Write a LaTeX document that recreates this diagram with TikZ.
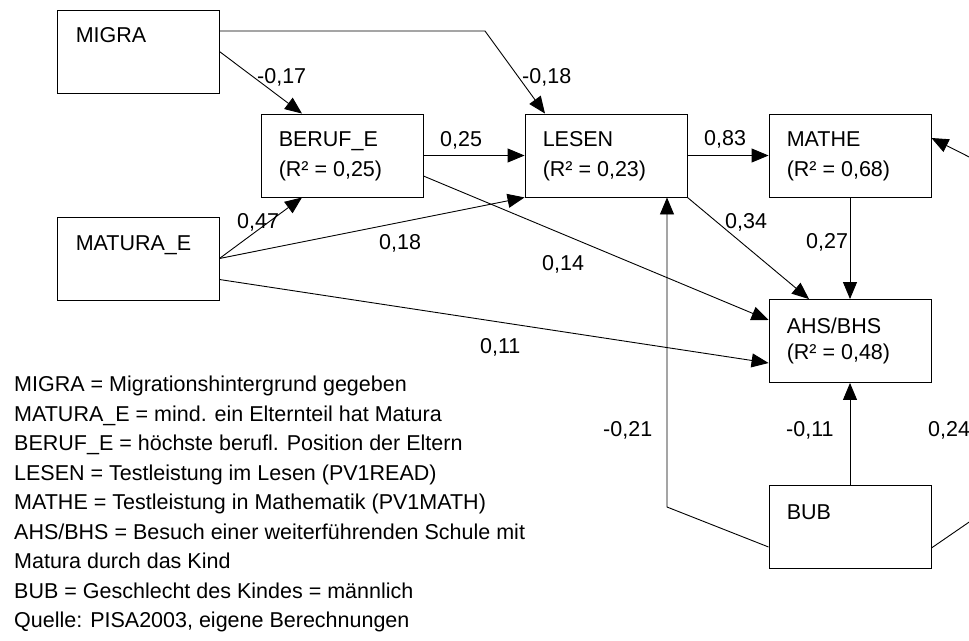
\documentclass[tikz,border=0pt]{standalone}
\usepackage{fontspec}
\setmainfont{Liberation Sans}
\usetikzlibrary{arrows.meta,calc}
\begin{document}
\begin{tikzpicture}[x=1pt,y=1pt,
  box/.style={draw,line width=0.9pt,minimum width=162pt,minimum height=83pt,inner sep=0pt},
  txt/.style={anchor=base west,inner sep=0pt,font=\fontsize{21.5}{25}\selectfont},
  conn/.style={line width=0.9pt,-{Triangle[length=17pt,width=14pt]}},
  plainline/.style={line width=0.9pt}]
\useasboundingbox (0,0) rectangle (969,-640);
\clip (0,0) rectangle (969,-640);

% boxes
\node[box] (migra)  at (138,-51.5) {};
\node[box] (matura) at (138,-258.5) {};
\node[box] (beruf)  at (342,-155.5) {};
\node[box] (lesen)  at (606,-155.5) {};
\node[box] (mathe)  at (850,-155.5) {};
\node[box] (ahs)    at (850,-341) {};
\node[box] (bub)    at (850,-527) {};

% box texts
\node[txt] (migraT)  at ($(migra.north west)+(19,-33)$) {MIGRA};
\node[txt] (maturaT) at ($(matura.north west)+(19,-34)$) {MATURA\_E};
\node[txt] (berufT)  at ($(beruf.north west)+(18,-33)$) {BERUF\_E};
\node[txt] (berufR)  at ($(beruf.north west)+(18,-63)$) {(R² = 0,25)};
\node[txt] (lesenT)  at ($(lesen.north west)+(18,-33)$) {LESEN};
\node[txt] (lesenR)  at ($(lesen.north west)+(18,-63)$) {(R² = 0,23)};
\node[txt] (matheT)  at ($(mathe.north west)+(18,-33)$) {MATHE};
\node[txt] (matheR)  at ($(mathe.north west)+(18,-63)$) {(R² = 0,68)};
\node[txt] (ahsT)    at ($(ahs.north west)+(18,-34)$) {AHS/BHS};
\node[txt] (ahsR)    at ($(ahs.north west)+(18,-60)$) {(R² = 0,48)};
\node[txt] (bubT)    at ($(bub.north west)+(18,-34)$) {BUB};

% helper coordinates
\coordinate (m1) at (485,-31);
\coordinate (b1) at (667,-507);
\coordinate (b2) at (1007,-496);
\coordinate (b3) at (1007,-176);

% connectors
\draw[conn] ([yshift=20.5]migra.east) -- (m1) -- ([xshift=-61]lesen.north);
\draw[conn] (migra.east) -- ([xshift=-40]beruf.north);
\draw[conn] (matura.east) -- ([xshift=-40]beruf.south);
\draw[conn] (matura.east) -- (lesen.south west);
\draw[conn] ([yshift=-21]matura.east) -- ([yshift=-22]ahs.west);
\draw[conn] (beruf.east) -- (lesen.west);
\draw[conn] ([yshift=-20.5]beruf.east) -- ([yshift=21]ahs.west);
\draw[conn] (lesen.east) -- (mathe.west);
\draw[conn] (lesen.south east) -- ([xshift=-41]ahs.north);
\draw[conn] (mathe.south) -- (ahs.north);
\draw[conn] (bub.north) -- (ahs.south);
\draw[conn] ([yshift=-20]bub.west) -- (b1) -- (b1 |- lesen.south);
\draw[conn] ([yshift=-21]bub.east) -- (b2) -- (b3) -- ([yshift=17.5]mathe.east);

% edge labels
\node[txt] (l1)  at (257,-83)  {-0,17};
\node[txt] (l2)  at (522,-83)  {-0,18};
\node[txt] (l3)  at (440,-146) {0,25};
\node[txt] (l4)  at (237,-228) {0,47};
\node[txt] (l5)  at (379,-249) {0,18};
\node[txt] (l6)  at (542,-270) {0,14};
\node[txt] (l7)  at (480,-353) {0,11};
\node[txt] (l8)  at (704,-145) {0,83};
\node[txt] (l9)  at (725,-228) {0,34};
\node[txt] (l10) at (806,-248) {0,27};
\node[txt] (l11) at (603,-436) {-0,21};
\node[txt] (l12) at (786,-436) {-0,11};
\node[txt] (l13) at (928,-436) {0,24};

% legend
\node[txt] (g1) at (14,-391.5) {MIGRA = Migrationshintergrund gegeben};
\node[txt] (g2) at (14,-421)   {MATURA\_E = mind. ein Elternteil hat Matura};
\node[txt] (g3) at (14,-450.5) {BERUF\_E = höchste berufl. Position der Eltern};
\node[txt] (g4) at (14,-480)   {LESEN = Testleistung im Lesen (PV1READ)};
\node[txt] (g5) at (14,-509.5) {MATHE = Testleistung in Mathematik (PV1MATH)};
\node[txt] (g6) at (14,-539)   {AHS/BHS = Besuch einer weiterführenden Schule mit};
\node[txt] (g7) at (14,-568.5) {Matura durch das Kind};
\node[txt] (g8) at (14,-598)   {BUB = Geschlecht des Kindes = männlich};
\node[txt] (g9) at (14,-627.5) {Quelle: PISA2003, eigene Berechnungen};
\end{tikzpicture}
\end{document}
